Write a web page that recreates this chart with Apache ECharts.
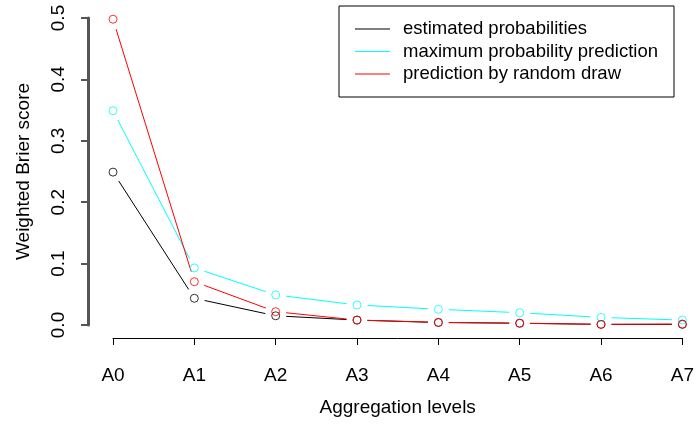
<!DOCTYPE html>
<html>
<head>
<meta charset="utf-8">
<script src="https://cdn.jsdelivr.net/npm/echarts@6/dist/echarts.min.js"></script>
<style>
  html, body { margin: 0; padding: 0; background: #fff; }
  #chart { width: 697px; height: 424px; }
</style>
</head>
<body>
<div id="chart"></div>
<script>
const categories = ['A0', 'A1', 'A2', 'A3', 'A4', 'A5', 'A6', 'A7'];
const estimatedProbabilities = [0.249, 0.0435, 0.015, 0.008, 0.004, 0.003, 0.001, 0.001];
const maximumProbability = [0.349, 0.093, 0.049, 0.0326, 0.0256, 0.020, 0.0124, 0.008];
const randomDraw = [0.498, 0.0705, 0.0217, 0.008, 0.0044, 0.0027, 0.0011, 0.0016];
const seriesNames = ['estimated probabilities', 'maximum probability prediction', 'prediction by random draw'];
const seriesColors = ['#000000', '#00FFFF', '#FF0000'];

const FONT = 'Liberation Sans, Arial, sans-serif';
const GAP = 10.5;

function segments(values) {
  const out = [];
  for (let i = 0; i < values.length - 1; i++) out.push([i, values[i], i + 1, values[i + 1]]);
  return out;
}

function makeSeries(name, values, color) {
  return [
    {
      name: name,
      type: 'custom',
      data: segments(values),
      encode: { x: [0, 2], y: [1, 3] },
      itemStyle: { color: color },
      silent: true,
      renderItem: function (params, api) {
        const p0 = api.coord([api.value(0), api.value(1)]);
        const p1 = api.coord([api.value(2), api.value(3)]);
        const dx = p1[0] - p0[0], dy = p1[1] - p0[1];
        const len = Math.sqrt(dx * dx + dy * dy);
        if (len <= 2 * GAP) return null;
        const ux = dx / len, uy = dy / len;
        return {
          type: 'line',
          shape: { x1: p0[0] + ux * GAP, y1: p0[1] + uy * GAP, x2: p1[0] - ux * GAP, y2: p1[1] - uy * GAP },
          style: { stroke: color, lineWidth: 1 }
        };
      }
    },
    {
      name: name,
      type: 'scatter',
      data: values.map((v, i) => [i, v]),
      symbol: 'circle',
      symbolSize: 8,
      itemStyle: { color: 'rgba(0,0,0,0)', borderColor: color, borderWidth: 1 },
      silent: true
    }
  ];
}

const chart = echarts.init(document.getElementById('chart'), null, { renderer: 'canvas' });
chart.setOption({
  animation: false,
  backgroundColor: '#ffffff',
  grid: { left: 113, right: 7, top: 18, bottom: 99, containLabel: false },
  legend: {
    orient: 'vertical',
    left: 339,
    top: 6,
    borderColor: '#000',
    borderWidth: 1,
    borderRadius: 0,
    padding: [12, 16, 12, 16],
    itemGap: 0.5,
    itemWidth: 35,
    itemHeight: 1,
    icon: 'rect',
    textStyle: { fontFamily: FONT, fontSize: 18.5, color: '#000', lineHeight: 22, padding: [0, 0, 0, 8] },
    data: seriesNames.map((n, i) => ({ name: n, itemStyle: { color: seriesColors[i] } }))
  },
  xAxis: {
    type: 'category',
    data: categories,
    boundaryGap: false,
    offset: 13,
    name: 'Aggregation levels',
    nameLocation: 'middle',
    nameGap: 60,
    nameTextStyle: { fontFamily: FONT, fontSize: 19, color: '#000' },
    axisLine: { onZero: false, lineStyle: { color: '#000', width: 1 } },
    axisTick: { length: 7, alignWithLabel: true, lineStyle: { color: '#000' } },
    axisLabel: { fontFamily: FONT, fontSize: 19, color: '#000', margin: 28 },
    splitLine: { show: false }
  },
  yAxis: {
    type: 'value',
    min: 0,
    max: 0.5,
    interval: 0.1,
    offset: 25,
    name: 'Weighted Brier score',
    nameLocation: 'middle',
    nameRotate: 90,
    nameGap: 55,
    nameTextStyle: { fontFamily: FONT, fontSize: 19, color: '#000' },
    axisLine: { show: true, onZero: false, lineStyle: { color: '#555555', width: 3 } },
    axisTick: { show: true, length: 7, lineStyle: { color: '#555555', width: 2 } },
    axisLabel: { fontFamily: FONT, fontSize: 19, color: '#000', rotate: 90, margin: 20, formatter: v => v.toFixed(1) },
    splitLine: { show: false }
  },
  series: [].concat(
    makeSeries(seriesNames[0], estimatedProbabilities, seriesColors[0]),
    makeSeries(seriesNames[1], maximumProbability, seriesColors[1]),
    makeSeries(seriesNames[2], randomDraw, seriesColors[2])
  )
});
</script>
</body>
</html>
